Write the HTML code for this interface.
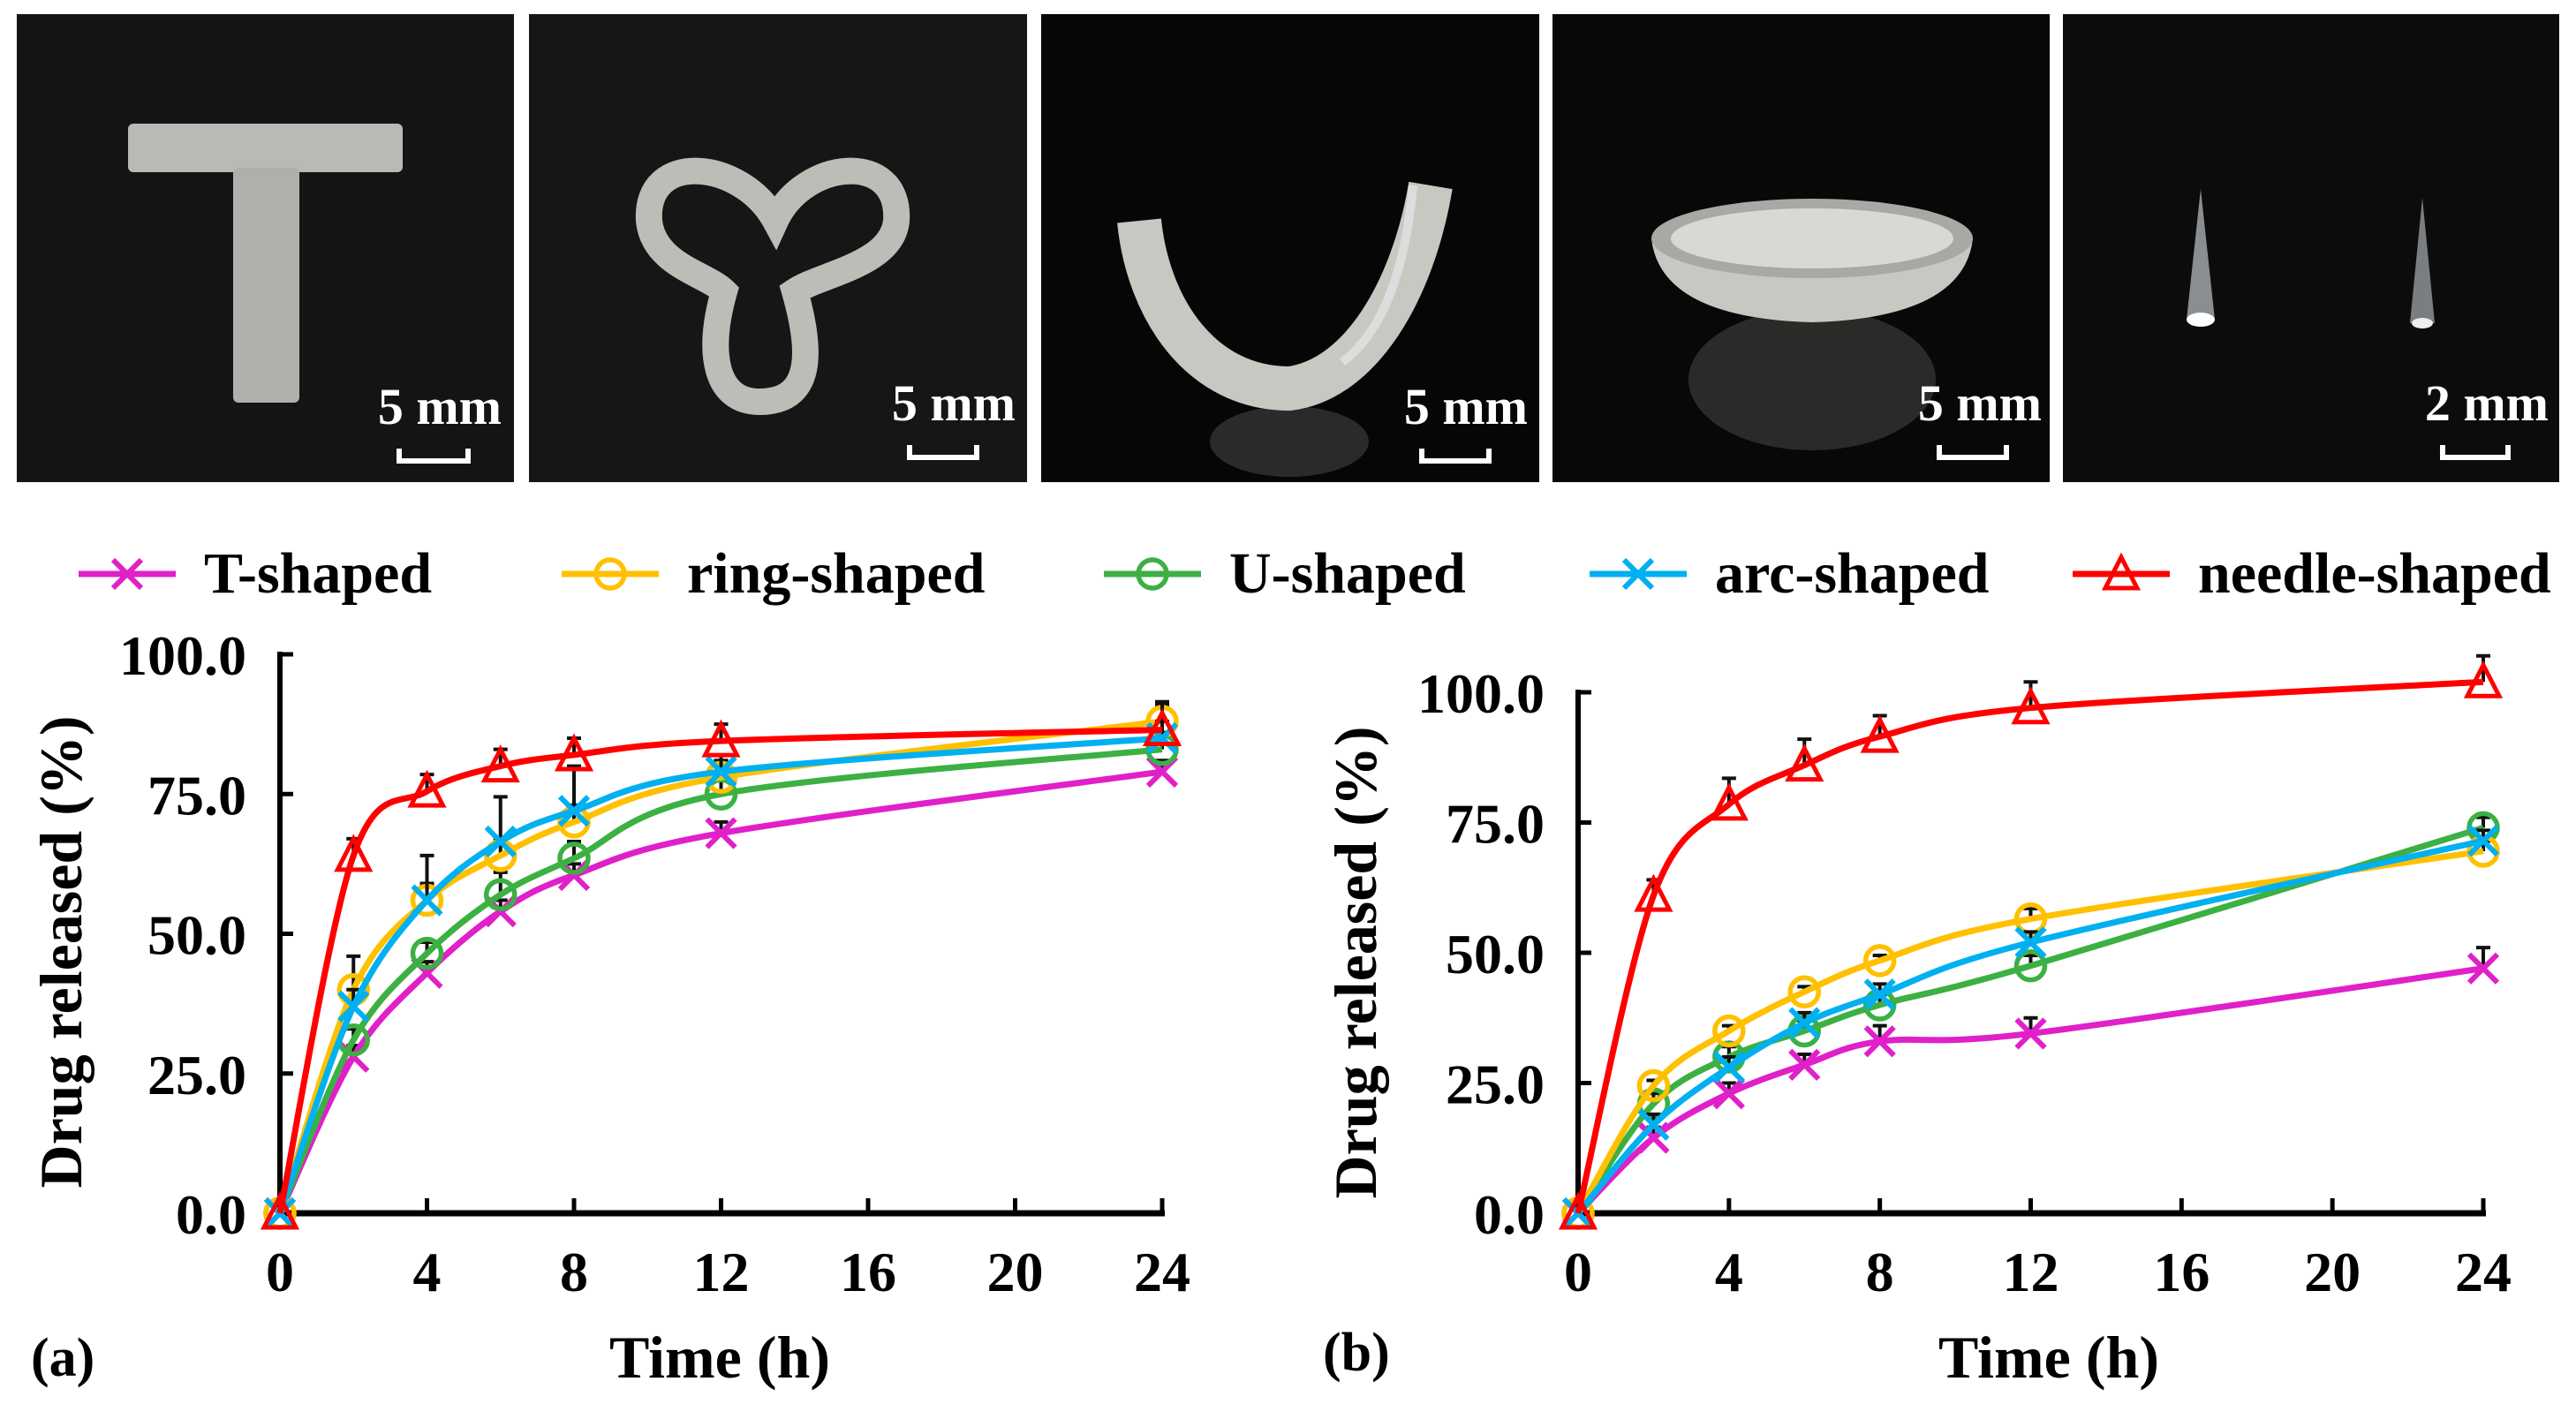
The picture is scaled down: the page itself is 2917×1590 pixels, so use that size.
<!DOCTYPE html>
<html><head><meta charset="utf-8"><style>
html,body{margin:0;padding:0;background:#fff;}
svg{display:block;font-family:"Liberation Serif",serif;font-weight:bold;}
</style></head><body>
<svg id="fig" width="2917" height="1590" viewBox="0 0 2917 1590">
<g id="photos">
 <g>
  <rect x="19" y="16" width="563" height="530" fill="#141414"/>
  <rect x="145" y="140" width="311" height="55" rx="6" fill="#b9bab6"/>
  <rect x="264" y="190" width="75" height="266" rx="6" fill="#aeb0ab"/>
  <text x="568" y="480" fill="#fff" font-size="58" text-anchor="end">5 mm</text>
  <path d="M452 508 V522 H530 V508" stroke="#fff" stroke-width="6" fill="none"/>
 </g>
 <g>
  <rect x="599" y="16" width="564" height="530" fill="#161616"/>
  <path d="M878 250 C840 180 730 170 735 250 C740 300 800 310 820 330 C800 400 810 455 860 455 C920 455 920 400 900 330 C930 310 1010 300 1015 250 C1020 170 910 180 878 250 Z" fill="none" stroke="#bdbdb8" stroke-width="30"/>
  <text x="1150" y="476" fill="#fff" font-size="58" text-anchor="end">5 mm</text>
  <path d="M1030 504 V518 H1106 V504" stroke="#fff" stroke-width="6" fill="none"/>
 </g>
 <g>
  <rect x="1179" y="16" width="564" height="530" fill="#060606"/>
  <ellipse cx="1460" cy="500" rx="90" ry="40" fill="#2a2a2a"/>
  <path d="M1290 250 C1300 350 1360 440 1460 440 C1540 430 1600 330 1620 210" fill="none" stroke="#c8c8c2" stroke-width="50"/>
  <path d="M1600 210 C1590 320 1560 380 1520 410" fill="none" stroke="#ddd" stroke-width="10"/>
  <text x="1730" y="480" fill="#fff" font-size="58" text-anchor="end">5 mm</text>
  <path d="M1610 508 V522 H1686 V508" stroke="#fff" stroke-width="6" fill="none"/>
 </g>
 <g>
  <rect x="1758" y="16" width="563" height="530" fill="#080808"/>
  <ellipse cx="2052" cy="430" rx="140" ry="80" fill="#2a2a28"/>
  <path d="M1870 270 Q1880 360 2052 365 Q2224 360 2234 270 Z" fill="#c8c8c2"/>
  <ellipse cx="2052" cy="270" rx="182" ry="45" fill="#a8a8a4"/>
  <ellipse cx="2052" cy="270" rx="160" ry="34" fill="#d8d8d4"/>
  <text x="2312" y="476" fill="#fff" font-size="58" text-anchor="end">5 mm</text>
  <path d="M2196 504 V518 H2272 V504" stroke="#fff" stroke-width="6" fill="none"/>
 </g>
 <g>
  <rect x="2336" y="16" width="562" height="530" fill="#0c0c0c"/>
  <polygon points="2492,214 2476,362 2508,362" fill="#8a8e90"/>
  <polygon points="2743,224 2729,366 2757,366" fill="#7a7e80"/>
  <ellipse cx="2492" cy="362" rx="16" ry="8" fill="#fff"/>
  <ellipse cx="2743" cy="366" rx="12" ry="6" fill="#eee"/>
  <text x="2886" y="476" fill="#fff" font-size="58" text-anchor="end">2 mm</text>
  <path d="M2766 504 V518 H2840 V504" stroke="#fff" stroke-width="6" fill="none"/>
 </g>
</g>
<g id="legend"></g>
<g id="chartA"></g>
<g id="chartB"></g>
</svg>
<script>
const times = [0, 2, 4, 6, 8, 12, 24];
const xTicks = [0, 4, 8, 12, 16, 20, 24];
const yTicks = [0, 25, 50, 75, 100];
const yTickLabels = ["0.0", "25.0", "50.0", "75.0", "100.0"];
const seriesNames = ["T-shaped", "ring-shaped", "U-shaped", "arc-shaped", "needle-shaped"];
const a_T = [0, 28, 43, 54, 60.5, 68, 79];
const a_ring = [0, 40, 56, 64, 70, 78, 88];
const a_U = [0, 31, 46.5, 57, 63.5, 75, 83];
const a_arc = [0, 37, 56, 66.5, 72, 79, 85];
const a_needle = [0, 64, 75.5, 80, 82, 84.5, 86.5];
const a_errT = [0, 2, 2, 2, 2, 2, 2];
const a_errRing = [0, 6, 3, 3, 3, 3, 3];
const a_errU = [0, 2, 2, 4, 3, 3, 3];
const a_errArc = [0, 3, 8, 8, 8, 3, 3];
const a_errNeedle = [0, 3, 3, 3, 3, 3, 5];
const b_T = [0, 14.5, 23, 28.5, 33, 34.5, 47];
const b_ring = [0, 24.5, 35, 42.5, 48.5, 56.5, 69.5];
const b_U = [0, 21, 30, 35, 40, 47.5, 74];
const b_arc = [0, 17, 28, 36.5, 42, 52, 71.5];
const b_needle = [0, 61, 78.5, 86, 91.5, 97, 102];
const b_errT = [0, 2, 2, 2, 3, 3, 4];
const b_errRing = [0, 1, 1, 1, 1, 2, 2];
const b_errU = [0, 2, 2, 2, 2, 2, 2];
const b_errArc = [0, 2, 2, 2, 2, 2, 2];
const b_errNeedle = [0, 3, 5, 5, 4, 5, 5];

const NS = "http://www.w3.org/2000/svg";
const colors = ["#e020c8", "#ffc000", "#3cb043", "#00b0f0", "#ff0000"];
const markers = ["x", "o", "o", "x", "t"];

function mk(tag, attrs, parent) {
  const e = document.createElementNS(NS, tag);
  for (const k in attrs) e.setAttribute(k, attrs[k]);
  parent.appendChild(e);
  return e;
}
function marker(g, type, cx, cy, color) {
  const r = 16;
  if (type === "x") {
    mk("path", {d: `M${cx-r} ${cy-r}L${cx+r} ${cy+r}M${cx-r} ${cy+r}L${cx+r} ${cy-r}`, stroke: color, "stroke-width": 6, fill: "none"}, g);
  } else if (type === "o") {
    mk("circle", {cx: cx, cy: cy, r: r, stroke: color, "stroke-width": 5.5, fill: "none"}, g);
  } else {
    mk("polygon", {points: `${cx},${cy-r-3} ${cx-r-2},${cy+r} ${cx+r+2},${cy+r}`, stroke: color, "stroke-width": 5, fill: "none"}, g);
  }
}
function smoothPath(pts) {
  let d = `M${pts[0][0]} ${pts[0][1]}`;
  for (let i = 0; i < pts.length - 1; i++) {
    const p0 = pts[i - 1] || pts[i], p1 = pts[i], p2 = pts[i + 1], p3 = pts[i + 2] || pts[i + 1];
    const t = 1 / 6;
    const c1x = p1[0] + (p2[0] - p0[0]) * t, c1y = p1[1] + (p2[1] - p0[1]) * t;
    const c2x = p2[0] - (p3[0] - p1[0]) * t, c2y = p2[1] - (p3[1] - p1[1]) * t;
    d += `C${c1x} ${c1y} ${c2x} ${c2y} ${p2[0]} ${p2[1]}`;
  }
  return d;
}
function drawChart(root, cfg) {
  const X = v => cfg.x0 + (cfg.x1 - cfg.x0) * v / 24;
  const Y = v => cfg.y0 - (cfg.y0 - cfg.y100) * v / 100;
  const ax = mk("g", {}, root);
  
  
  mk("line", {x1: cfg.x0, y1: Y(100) - 3, x2: cfg.x0, y2: cfg.y0 + 3, stroke: "#000", "stroke-width": 6}, ax);
  mk("line", {x1: cfg.x0 - 3, y1: cfg.y0, x2: X(24) + 3, y2: cfg.y0, stroke: "#000", "stroke-width": 7}, ax);
  xTicks.forEach(t => {
    mk("line", {x1: X(t), y1: cfg.y0, x2: X(t), y2: cfg.y0 - 17, stroke: "#000", "stroke-width": 5}, ax);
    const tx = mk("text", {x: X(t), y: cfg.y0 + 88, "font-size": 64, "text-anchor": "middle"}, ax);
    tx.textContent = t;
    
    
  });
  yTicks.forEach((t, i) => {
    mk("line", {x1: cfg.x0, y1: Y(t), x2: cfg.x0 + 15, y2: Y(t), stroke: "#000", "stroke-width": 5}, ax);
    const ty = mk("text", {x: cfg.x0 - 38, y: Y(t) + 23, "font-size": 64, "text-anchor": "end"}, ax);
    ty.textContent = yTickLabels[i];
    
    
  });
  const xt = mk("text", {x: cfg.xTitleX, y: 1560, "font-size": 68, "text-anchor": "middle"}, root);
  xt.textContent = "Time (h)";
  
  
  const yt = mk("text", {x: 0, y: 0, "font-size": 68, "text-anchor": "middle", transform: `translate(${cfg.yTitleX},${cfg.yTitleY}) rotate(-90)`}, root);
  yt.textContent = "Drug released (%)";
  
  
  const pl = mk("text", {x: cfg.labelX, y: cfg.labelY, "font-size": 62}, root);
  pl.textContent = cfg.label;
  
  
  const order = [0, 2, 1, 3, 4];
  order.forEach(si => {
    const vals = cfg.series[si], errs = cfg.errs[si];
    const g = mk("g", {}, root);
    
    
    times.forEach((t, i) => {
      if (errs[i] > 0) {
        const yy = Y(vals[i]), ye = Y(vals[i] + errs[i]);
        mk("path", {d: `M${X(t)} ${yy}V${ye}M${X(t)-8} ${ye}H${X(t)+8}`, stroke: "#111", "stroke-width": 4, fill: "none"}, g);
      }
    });
    const pts = times.map((t, i) => [X(t), Y(vals[i])]);
    const line = mk("path", {d: smoothPath(pts), stroke: colors[si], "stroke-width": 7, fill: "none"}, g);
    
    
    pts.forEach(p => marker(g, markers[si], p[0], p[1], colors[si]));
  });
}
drawChart(document.getElementById("chartA"), {
  x0: 317, x1: 1316, y0: 1374, y100: 741, xTitleX: 815, yTitleX: 92, yTitleY: 1078,
  label: "(a)", labelX: 35, labelY: 1558,
  series: [a_T, a_ring, a_U, a_arc, a_needle],
  errs: [a_errT, a_errRing, a_errU, a_errArc, a_errNeedle]
});
drawChart(document.getElementById("chartB"), {
  x0: 1787, x1: 2812, y0: 1374, y100: 784, xTitleX: 2320, yTitleX: 1558, yTitleY: 1090,
  label: "(b)", labelX: 1498, labelY: 1552,
  series: [b_T, b_ring, b_U, b_arc, b_needle],
  errs: [b_errT, b_errRing, b_errU, b_errArc, b_errNeedle]
});
const legendLineX = [89, 636, 1250, 1800, 2347];
const lg = document.getElementById("legend");
seriesNames.forEach((n, i) => {
  const g = mk("g", {}, lg);
  
  
  const x = legendLineX[i], y = 650;
  mk("line", {x1: x, y1: y, x2: x + 110, y2: y, stroke: colors[i], "stroke-width": 7}, g);
  marker(g, markers[i], x + 55, y, colors[i]);
  const t = mk("text", {x: x + 142, y: y + 21, "font-size": 66}, g);
  t.textContent = n;
});
</script>
</body></html>
